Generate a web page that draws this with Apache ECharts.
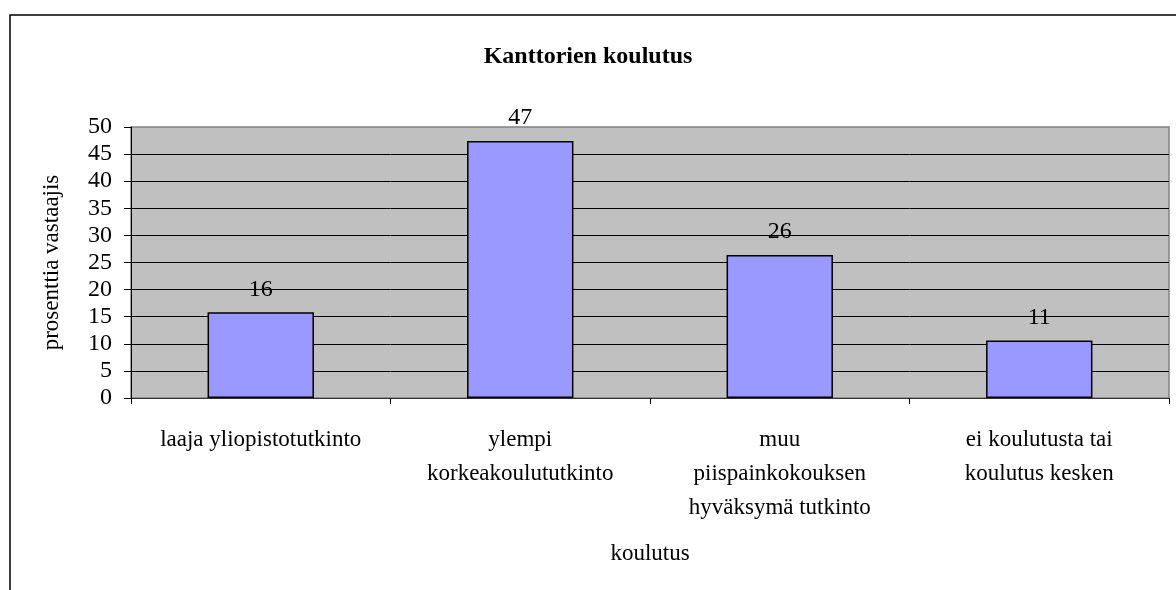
<!DOCTYPE html>
<html>
<head>
<meta charset="utf-8">
<script src="https://cdn.jsdelivr.net/npm/echarts@6/dist/echarts.min.js"></script>
<style>
  html, body { margin: 0; padding: 0; background: #fff; }
  #main { width: 1176px; height: 590px; }
</style>
</head>
<body>
<div id="main"></div>
<script>
// data
var categories = [
  'laaja yliopistotutkinto',
  'ylempi\nkorkeakoulututkinto',
  'muu\npiispainkokouksen\nhyväksymä tutkinto',
  'ei koulutusta tai\nkoulutus kesken'
];
var values = [15.8, 47.4, 26.4, 10.6];
var yTicks = [0, 5, 10, 15, 20, 25, 30, 35, 40, 45, 50];

var font = 'Liberation Serif, Times New Roman, serif';

var chart = echarts.init(document.getElementById('main'));
var option = {
  animation: false,
  backgroundColor: '#fff',
  title: {
    text: 'Kanttorien koulutus',
    left: 'center',
    top: 40,
    textStyle: { fontFamily: font, fontSize: 24, fontWeight: 'bold', color: '#000' }
  },
  graphic: [{
    type: 'rect',
    z: -10,
    shape: { x: 10, y: 15, width: 1200, height: 620 },
    style: { fill: 'none', stroke: '#000', lineWidth: 1.5 }
  }],
  grid: {
    left: 131, top: 127, right: 7, bottom: 192,
    show: true,
    backgroundColor: '#c0c0c0',
    borderColor: '#808080',
    borderWidth: 1.5
  },
  xAxis: {
    type: 'category',
    data: categories,
    name: 'koulutus',
    nameLocation: 'middle',
    nameGap: 144,
    nameTextStyle: { fontFamily: font, fontSize: 23, color: '#000' },
    axisLine: { lineStyle: { color: '#333', width: 1 } },
    axisTick: { show: true, length: 6, inside: false, lineStyle: { color: '#000' } },
    axisLabel: {
      interval: 0,
      margin: 25,
      fontFamily: font,
      fontSize: 23,
      lineHeight: 34,
      color: '#000'
    }
  },
  yAxis: {
    type: 'value',
    min: yTicks[0],
    max: yTicks[yTicks.length - 1],
    interval: 5,
    name: 'prosenttia vastaajis',
    nameLocation: 'middle',
    nameRotate: 90,
    nameGap: 68,
    nameTextStyle: { fontFamily: font, fontSize: 23, color: '#000' },
    axisLine: { show: true, lineStyle: { color: '#000', width: 1 } },
    axisTick: { show: true, length: 7, lineStyle: { color: '#000' } },
    axisLabel: { margin: 19, fontFamily: font, fontSize: 24, color: '#000' },
    splitLine: { show: true, showMaxLine: false, lineStyle: { color: '#000', width: 1 } }
  },
  series: [{
    type: 'bar',
    data: values,
    barCategoryGap: '59%',
    itemStyle: { color: '#9999ff', borderColor: '#000', borderWidth: 1.5 },
    label: {
      show: true,
      position: 'top',
      distance: 11,
      fontFamily: font,
      fontSize: 24,
      color: '#000',
      formatter: function (p) { return Math.round(p.value); }
    }
  }]
};
chart.setOption(option);
window.addEventListener('resize', function () { chart.resize(); });
</script>
</body>
</html>
